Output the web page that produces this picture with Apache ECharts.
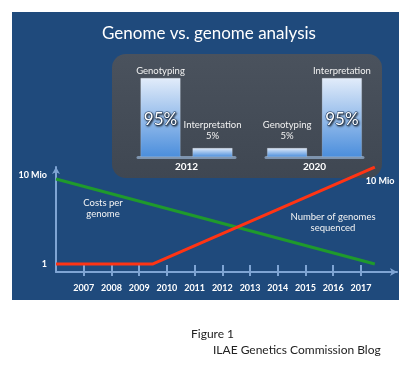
<!DOCTYPE html>
<html>
<head>
<meta charset="utf-8">
<script src="https://cdn.jsdelivr.net/npm/echarts@6/dist/echarts.min.js"></script>
<style>html,body{margin:0;padding:0;background:#fff}#c{width:412px;height:368px}</style>
</head>
<body>
<div id="c"></div>
<script>
// ---- data ----
const chartTitle = 'Genome vs. genome analysis';
const figureCaption = 'Figure 1';
const sourceCaption = 'ILAE Genetics Commission Blog';
const years = [2007, 2008, 2009, 2010, 2011, 2012, 2013, 2014, 2015, 2016, 2017];
const shareYears = ['2012', '2020'];
const genotypingShare = [95, 5];
const interpretationShare = [5, 95];
const costPerGenome = [[2006, 4.9e6], [2017.5, 1]];
const genomesSequenced = [[2006, 1], [2009.5, 1], [2017.5, 4.2e7]];
const yTickLabels = { 0: '1', 7: '10 Mio' };
const costLabel = 'Costs per\ngenome';
const genomesLabel = 'Number of genomes\nsequenced';
const genomesEndLabel = '10 Mio';

// ---- styles ----
const FONT = 'Lato, "Open Sans", sans-serif';
const AXIS_BLUE = '#7fa5d4';
const barFill = new echarts.graphic.LinearGradient(0, 0, 0, 1, [
  { offset: 0, color: '#e2ecfa' },
  { offset: 1, color: '#4b8edc' }
]);

function shareItem(name, value) {
  const big = value > 50;
  return {
    value: value,
    label: big ? {
      show: true, position: 'insideTop', distance: 0, offset: [0, -14],
      formatter: '{n|' + name + '}\n{b|' + value + '%}',
      rich: {
        n: { fontFamily: FONT, fontSize: 9.5, color: '#f2f2f2', lineHeight: 14 },
        b: { fontFamily: FONT, fontSize: 17, color: '#fff', lineHeight: 84,
             textBorderColor: '#2a4a72', textBorderWidth: 1.2,
             textShadowColor: 'rgba(0,0,0,0.55)', textShadowBlur: 2, textShadowOffsetX: 1, textShadowOffsetY: 1 }
      }
    } : {
      show: true, position: 'top', distance: 7,
      formatter: name + '\n' + value + '%',
      fontFamily: FONT, fontSize: 9.5, color: '#f2f2f2', lineHeight: 11
    }
  };
}

function shareSeries(name, values, idx, gap) {
  return {
    type: 'bar', name: name, xAxisIndex: idx + 2, yAxisIndex: idx + 1,
    data: [shareItem(name, values[idx])],
    barWidth: 40, barGap: gap, barMinHeight: 9,
    itemStyle: { color: barFill, borderColor: 'rgba(255,255,255,0.35)', borderWidth: 0.5 },
    z: 3
  };
}

const yearLabel = function (v) { return String(v); };

const chart = echarts.init(document.getElementById('c'), null, { renderer: 'canvas' });
chart.setOption({
  animation: false,
  backgroundColor: '#ffffff',
  title: [
    { text: chartTitle, left: 102, top: 25, padding: 0,
      textStyle: { fontFamily: FONT, fontSize: 17, fontWeight: 'normal', color: '#ffffff' } },
    { text: figureCaption, left: 191, top: 328, padding: 0,
      textStyle: { fontFamily: FONT, fontSize: 12, fontWeight: 'normal', color: '#222' } },
    { text: sourceCaption, left: 213, top: 344, padding: 0,
      textStyle: { fontFamily: FONT, fontSize: 12, fontWeight: 'normal', color: '#222' } }
  ],
  graphic: [
    { type: 'rect', z: -20, shape: { x: 12, y: 12, width: 387, height: 288 }, style: { fill: '#1f4a7c' } },
    { type: 'rect', z: -19, shape: { x: 112, y: 54, width: 270, height: 124, r: 14 },
      style: { fill: new echarts.graphic.LinearGradient(0, 0, 0, 1, [
        { offset: 0, color: '#4a525d' }, { offset: 1, color: '#3f4752' }]) } },
    { type: 'text', z: 100, style: { text: costLabel, x: 103, y: 208, align: 'center', verticalAlign: 'middle',
      fill: '#f4f4f4', font: '9.5px ' + FONT, lineHeight: 11 } },
    { type: 'text', z: 100, style: { text: genomesLabel, x: 333, y: 222, align: 'center', verticalAlign: 'middle',
      fill: '#f4f4f4', font: '9.5px ' + FONT, lineHeight: 11 } }
  ],
  grid: [
    { left: 56, top: 167, width: 341, height: 105 },
    { left: 138, top: 78, width: 97, height: 79 },
    { left: 266, top: 78, width: 97, height: 79 }
  ],
  xAxis: [
    { gridIndex: 0, type: 'value', position: 'bottom', min: 2006, max: 2018.3,
      axisLine: { show: true, onZero: false, symbol: ['none', 'arrow'], symbolSize: [6, 7],
        lineStyle: { color: AXIS_BLUE, width: 2 } },
      axisTick: { show: true, inside: true, length: 7, customValues: years, lineStyle: { color: AXIS_BLUE, width: 2 } },
      axisLabel: { show: true, customValues: years, formatter: yearLabel, margin: 12, color: '#ffffff',
        fontFamily: FONT, fontSize: 9, fontWeight: 'bold' },
      splitLine: { show: false } },
    { gridIndex: 0, type: 'value', position: 'bottom', offset: 0, min: 2006, max: 2018.3,
      axisLine: { show: false, onZero: false },
      axisTick: { show: true, inside: false, length: 4, customValues: years, lineStyle: { color: AXIS_BLUE, width: 2 } },
      axisLabel: { show: false }, splitLine: { show: false } },
    { gridIndex: 1, type: 'category', data: [shareYears[0]],
      axisLine: { show: true, lineStyle: { color: '#7e94ae', width: 3 } }, axisTick: { show: false },
      axisLabel: { margin: 5, color: '#ffffff', fontFamily: FONT, fontSize: 10, fontWeight: 'bold' } },
    { gridIndex: 2, type: 'category', data: [shareYears[1]],
      axisLine: { show: true, lineStyle: { color: '#7e94ae', width: 3 } }, axisTick: { show: false },
      axisLabel: { margin: 5, color: '#ffffff', fontFamily: FONT, fontSize: 10, fontWeight: 'bold' } }
  ],
  yAxis: [
    { gridIndex: 0, type: 'log', logBase: 10, min: Math.pow(10, -0.63), max: Math.pow(10, 7.63),
      axisLine: { show: true, onZero: false, symbol: ['none', 'arrow'], symbolSize: [6, 7],
        lineStyle: { color: AXIS_BLUE, width: 2 } },
      axisTick: { show: false }, minorTick: { show: false }, splitLine: { show: false },
      axisLabel: { margin: 9, color: '#ffffff', fontFamily: FONT, fontSize: 9, fontWeight: 'bold',
        showMinLabel: false, showMaxLabel: false,
        formatter: function (v) {
          const e = Math.log10(v); const r = Math.round(e);
          if (Math.abs(e - r) > 1e-6) return '';
          return yTickLabels[r] || '';
        } } },
    { gridIndex: 1, type: 'value', min: 0, max: 95, show: false },
    { gridIndex: 2, type: 'value', min: 0, max: 95, show: false }
  ],
  series: [
    { type: 'line', name: 'Costs per genome', xAxisIndex: 0, yAxisIndex: 0, data: costPerGenome,
      showSymbol: false, symbol: 'none', lineStyle: { color: '#1f9a2c', width: 3 }, z: 4 },
    { type: 'line', name: 'Number of genomes sequenced', xAxisIndex: 0, yAxisIndex: 0, data: genomesSequenced,
      showSymbol: false, symbol: 'none', lineStyle: { color: '#ff3414', width: 3 }, z: 5,
      endLabel: { show: true, formatter: genomesEndLabel, offset: [-17, 14],
        color: '#ffffff', fontFamily: FONT, fontSize: 9, fontWeight: 'bold' } },
    shareSeries('Genotyping', genotypingShare, 0, '30%'),
    shareSeries('Interpretation', interpretationShare, 0, '30%'),
    shareSeries('Genotyping', genotypingShare, 1, '37%'),
    shareSeries('Interpretation', interpretationShare, 1, '37%')
  ]
});
</script>
</body>
</html>
